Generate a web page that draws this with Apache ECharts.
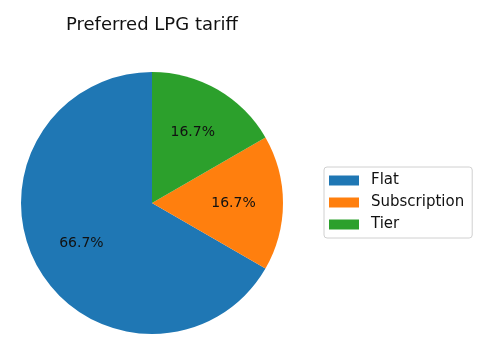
<!DOCTYPE html>
<html>
<head>
<meta charset="utf-8">
<script src="https://cdn.jsdelivr.net/npm/echarts@6/dist/echarts.min.js"></script>
<style>
  html, body { margin: 0; padding: 0; background: #fff; }
  #main { width: 487px; height: 349px; }
</style>
</head>
<body>
<div id="main"></div>
<script>
// 饼图数据
const categories = ["Flat", "Subscription", "Tier"];
const counts = [4, 1, 1];
const colors = ["#1f77b4", "#ff7f0e", "#2ca02c"];

const total = counts.reduce((a, b) => a + b, 0);
const pieData = categories.map((name, i) => ({
  name: name,
  value: counts[i],
  itemStyle: { color: colors[i] },
}));

const myChart = echarts.init(document.getElementById("main"));
const font = "DejaVu Sans";
myChart.setOption({
  animation: false,
  title: {
    text: "Preferred LPG tariff",
    left: 66,
    top: 16,
    padding: 0,
    textStyle: { fontFamily: font, fontSize: 18, fontWeight: "normal", color: "#111" },
  },
  legend: {
    orient: "vertical",
    left: 324,
    top: 167,
    data: categories,
    icon: "rect",
    itemWidth: 30,
    itemHeight: 10,
    itemGap: 7,
    padding: [6, 8, 6, 5],
    borderColor: "#d0d0d0",
    borderWidth: 1,
    borderRadius: 3,
    textStyle: { fontFamily: font, fontSize: 15, color: "#111", padding: [0, 0, 0, 7] },
  },
  series: [
    {
      type: "pie",
      center: [152, 203],
      radius: [0, 131],
      startAngle: 90,
      clockwise: false,
      data: pieData,
      label: { show: false },
      labelLine: { show: false },
      emphasis: { disabled: true },
    },
    {
      // 透明层 只用来放百分比标签 (0.6半径处)
      type: "pie",
      center: [152, 203],
      radius: [26, 131],
      startAngle: 90,
      clockwise: false,
      silent: true,
      data: categories.map((name, i) => ({ name: name, value: counts[i] })),
      itemStyle: { color: "rgba(0,0,0,0)" },
      label: {
        show: true,
        position: "inside",
        fontFamily: font,
        fontSize: 14,
        color: "#111",
        formatter: (p) => ((p.value / total) * 100).toFixed(1) + "%",
      },
      labelLine: { show: false },
      emphasis: { disabled: true },
    },
  ],
});
</script>
</body>
</html>
